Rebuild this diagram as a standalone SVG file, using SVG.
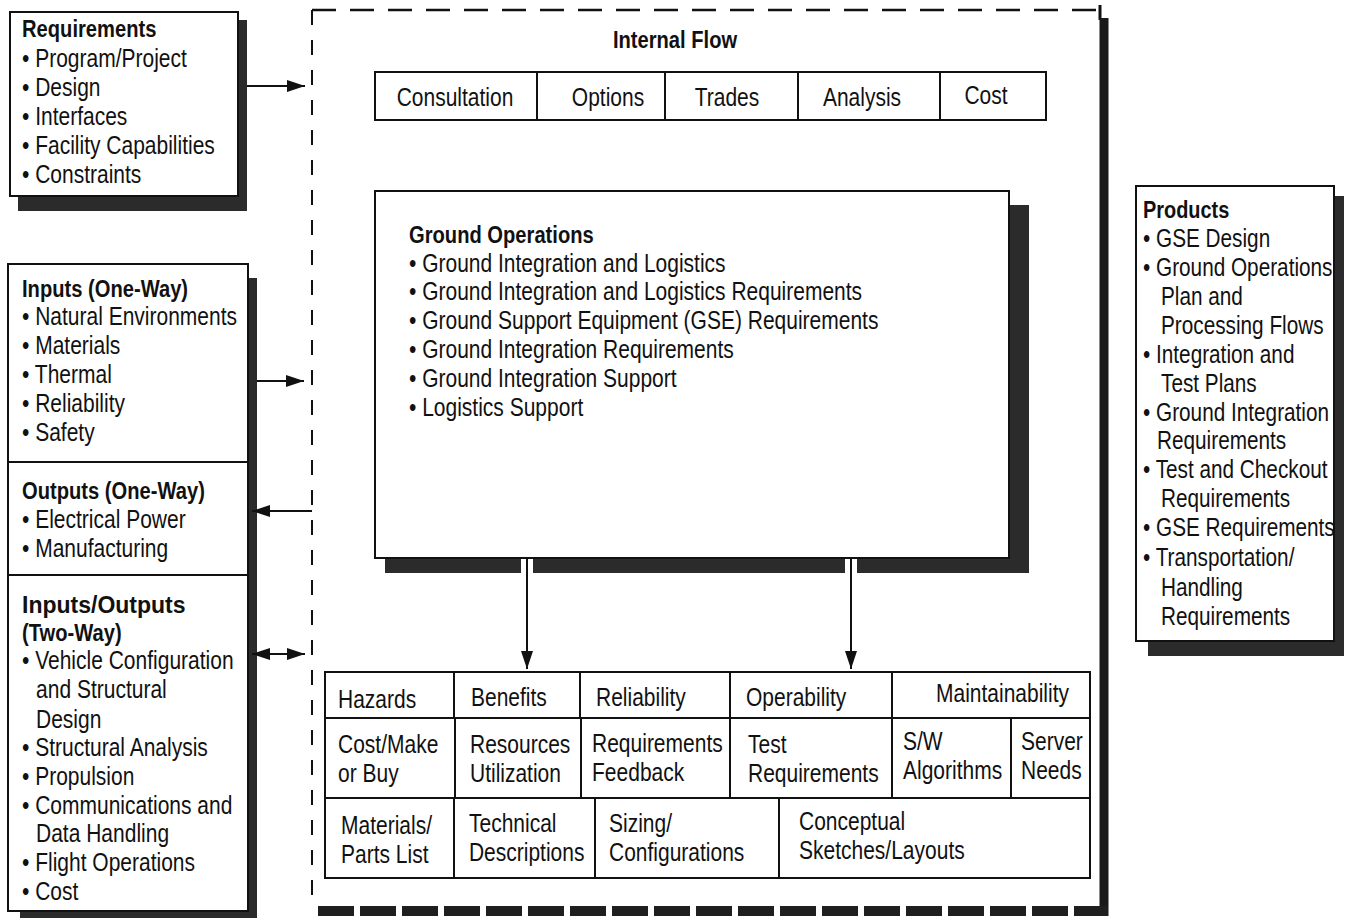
<svg xmlns="http://www.w3.org/2000/svg" width="1346" height="920" viewBox="0 0 1346 920">
<style>
.t{font-family:"Liberation Sans",Arial,sans-serif;font-size:25px;fill:#111}
.b{font-weight:bold;font-size:24px}
.bw{font-family:"Liberation Sans",Arial,sans-serif;font-weight:bold;font-size:23px;fill:#111}
.box{fill:#fff;stroke:#111;stroke-width:2}
.sh{fill:#2b2b2b}
.ln{stroke:#111;stroke-width:2;fill:none}
.ar{stroke:#111;stroke-width:2;fill:none}
</style>
<defs>
<marker id="ah" markerUnits="userSpaceOnUse" markerWidth="20" markerHeight="14" refX="18" refY="7" orient="auto-start-reverse">
<path d="M0,1 L18,7 L0,13 Z" fill="#111"/>
</marker>
</defs>
<rect width="1346" height="920" fill="#fff"/>

<g id="frame">
<line x1="312" y1="10" x2="1100" y2="10" stroke="#111" stroke-width="2.5" stroke-dasharray="24 14"/>
<line x1="312" y1="10" x2="312" y2="900" stroke="#111" stroke-width="2" stroke-dasharray="15 15"/>
<line x1="1100" y1="5" x2="1100" y2="20" stroke="#111" stroke-width="3"/>
<line x1="1104" y1="18" x2="1104" y2="916" stroke="#1a1a1a" stroke-width="9"/>
<line x1="318" y1="911" x2="1108" y2="911" stroke="#1f1f1f" stroke-width="10" stroke-dasharray="36 6"/>
<g transform="scale(0.84 1)">
<text class="t b" x="803.6" y="48" text-anchor="middle">Internal Flow</text>
</g>
</g>

<g id="requirements">
<rect class="sh" x="238" y="20" width="9" height="191"/>
<rect class="sh" x="18" y="196" width="229" height="15"/>
<rect class="box" x="10" y="12" width="228" height="184"/>
<g transform="translate(22 0) scale(0.84 1)">
<text class="t b" x="0" y="37">Requirements</text>
<text class="t" x="0" y="67">• Program/Project</text>
<text class="t" x="0" y="96">• Design</text>
<text class="t" x="0" y="125">• Interfaces</text>
<text class="t" x="0" y="154">• Facility Capabilities</text>
<text class="t" x="0" y="183">• Constraints</text>
</g>
</g>

<g id="left-shadow">
<rect class="sh" x="248" y="278" width="9" height="640"/>
<rect class="sh" x="20" y="911" width="237" height="7"/>
</g>

<g id="inputs-one-way">
<rect class="box" x="8" y="264" width="240" height="198"/>
<g transform="translate(22 0) scale(0.84 1)">
<text class="t b" x="0" y="297">Inputs (One-Way)</text>
<text class="t" x="0" y="325">• Natural Environments</text>
<text class="t" x="0" y="354">• Materials</text>
<text class="t" x="0" y="383">• Thermal</text>
<text class="t" x="0" y="412">• Reliability</text>
<text class="t" x="0" y="441">• Safety</text>
</g>
</g>

<g id="outputs-one-way">
<rect class="box" x="8" y="462" width="240" height="113"/>
<g transform="translate(22 0) scale(0.84 1)">
<text class="t b" x="0" y="499">Outputs (One-Way)</text>
<text class="t" x="0" y="528">• Electrical Power</text>
<text class="t" x="0" y="557">• Manufacturing</text>
</g>
</g>

<g id="inputs-outputs">
<rect class="box" x="8" y="575" width="240" height="336"/>
<text class="bw" x="22" y="613">Inputs/Outputs</text>
<g transform="translate(22 0) scale(0.84 1)">
<text class="t b" x="0" y="641">(Two-Way)</text>
<text class="t" x="0" y="669">• Vehicle Configuration</text>
<text class="t" x="16.7" y="698">and Structural</text>
<text class="t" x="16.7" y="728">Design</text>
<text class="t" x="0" y="756">• Structural Analysis</text>
<text class="t" x="0" y="785">• Propulsion</text>
<text class="t" x="0" y="814">• Communications and</text>
<text class="t" x="16.7" y="842">Data Handling</text>
<text class="t" x="0" y="871">• Flight Operations</text>
<text class="t" x="0" y="900">• Cost</text>
</g>
</g>

<g id="internal-flow-row">
<rect class="box" x="375" y="72" width="671" height="48"/>
<line class="ln" x1="537" y1="72" x2="537" y2="120"/>
<line class="ln" x1="665" y1="72" x2="665" y2="120"/>
<line class="ln" x1="798" y1="72" x2="798" y2="120"/>
<line class="ln" x1="940" y1="72" x2="940" y2="120"/>
<g transform="scale(0.84 1)">
<text class="t" x="541.7" y="106" text-anchor="middle">Consultation</text>
<text class="t" x="723.8" y="106" text-anchor="middle">Options</text>
<text class="t" x="865.5" y="106" text-anchor="middle">Trades</text>
<text class="t" x="1026.2" y="106" text-anchor="middle">Analysis</text>
<text class="t" x="1173.8" y="104" text-anchor="middle">Cost</text>
</g>
</g>

<g id="ground-operations">
<rect class="sh" x="1009" y="205" width="20" height="368"/>
<rect class="sh" x="385" y="558" width="644" height="15"/>
<rect x="521" y="559" width="12" height="15" fill="#fff"/>
<rect x="845" y="559" width="12" height="15" fill="#fff"/>
<rect class="box" x="375" y="191" width="634" height="367"/>
<g transform="translate(409 0) scale(0.84 1)">
<text class="t b" x="0" y="243">Ground Operations</text>
<text class="t" x="0" y="272">• Ground Integration and Logistics</text>
<text class="t" x="0" y="300">• Ground Integration and Logistics Requirements</text>
<text class="t" x="0" y="329">• Ground Support Equipment (GSE) Requirements</text>
<text class="t" x="0" y="358">• Ground Integration Requirements</text>
<text class="t" x="0" y="387">• Ground Integration Support</text>
<text class="t" x="0" y="416">• Logistics Support</text>
</g>
</g>

<g id="products">
<rect class="sh" x="1334" y="196" width="10" height="460"/>
<rect class="sh" x="1148" y="641" width="196" height="15"/>
<rect class="box" x="1136" y="186" width="198" height="455"/>
<g transform="translate(1143 0) scale(0.83 1)">
<text class="t b" x="0" y="218">Products</text>
<text class="t" x="0" y="247">• GSE Design</text>
<text class="t" x="0" y="276">• Ground Operations</text>
<text class="t" x="21.7" y="305">Plan and</text>
<text class="t" x="21.7" y="334">Processing Flows</text>
<text class="t" x="0" y="363">• Integration and</text>
<text class="t" x="21.7" y="392">Test Plans</text>
<text class="t" x="0" y="421">• Ground Integration</text>
<text class="t" x="16.9" y="449">Requirements</text>
<text class="t" x="0" y="478">• Test and Checkout</text>
<text class="t" x="21.7" y="507">Requirements</text>
<text class="t" x="0" y="536">• GSE Requirements</text>
<text class="t" x="0" y="566">• Transportation/</text>
<text class="t" x="21.7" y="596">Handling</text>
<text class="t" x="21.7" y="625">Requirements</text>
</g>
</g>

<g id="analysis-grid">
<rect class="box" x="325" y="672" width="765" height="206"/>
<line class="ln" x1="325" y1="718" x2="1090" y2="718"/>
<line class="ln" x1="325" y1="798" x2="1090" y2="798"/>
<line class="ln" x1="454" y1="672" x2="454" y2="718"/>
<line class="ln" x1="580" y1="672" x2="580" y2="718"/>
<line class="ln" x1="730" y1="672" x2="730" y2="718"/>
<line class="ln" x1="892" y1="672" x2="892" y2="718"/>
<line class="ln" x1="455" y1="718" x2="455" y2="798"/>
<line class="ln" x1="581" y1="718" x2="581" y2="798"/>
<line class="ln" x1="730" y1="718" x2="730" y2="798"/>
<line class="ln" x1="892" y1="718" x2="892" y2="798"/>
<line class="ln" x1="1011" y1="718" x2="1011" y2="798"/>
<line class="ln" x1="454" y1="798" x2="454" y2="878"/>
<line class="ln" x1="595" y1="798" x2="595" y2="878"/>
<line class="ln" x1="779" y1="798" x2="779" y2="878"/>
<g transform="scale(0.84 1)">
<text class="t" x="402.4" y="708">Hazards</text>
<text class="t" x="560.7" y="706">Benefits</text>
<text class="t" x="709.5" y="706">Reliability</text>
<text class="t" x="888.1" y="706">Operability</text>
<text class="t" x="1114.3" y="702">Maintainability</text>
<text class="t" x="402.4" y="753">Cost/Make</text>
<text class="t" x="402.4" y="782">or Buy</text>
<text class="t" x="559.5" y="753">Resources</text>
<text class="t" x="559.5" y="782">Utilization</text>
<text class="t" x="704.8" y="752">Requirements</text>
<text class="t" x="704.8" y="781">Feedback</text>
<text class="t" x="890.5" y="753">Test</text>
<text class="t" x="890.5" y="782">Requirements</text>
<text class="t" x="1075" y="750">S/W</text>
<text class="t" x="1075" y="779">Algorithms</text>
<text class="t" x="1215.5" y="750">Server</text>
<text class="t" x="1215.5" y="779">Needs</text>
<text class="t" x="406" y="834">Materials/</text>
<text class="t" x="406" y="863">Parts List</text>
<text class="t" x="558.3" y="832">Technical</text>
<text class="t" x="558.3" y="861">Descriptions</text>
<text class="t" x="725" y="832">Sizing/</text>
<text class="t" x="725" y="861">Configurations</text>
<text class="t" x="951.2" y="830">Conceptual</text>
<text class="t" x="951.2" y="859">Sketches/Layouts</text>
</g>
</g>

<g id="connectors">
<line class="ar" x1="247" y1="86" x2="305" y2="86" marker-end="url(#ah)"/>
<line class="ar" x1="257" y1="381" x2="304" y2="381" marker-end="url(#ah)"/>
<line class="ar" x1="312" y1="511" x2="252" y2="511" marker-end="url(#ah)"/>
<line class="ar" x1="252" y1="654" x2="305" y2="654" marker-start="url(#ah)" marker-end="url(#ah)"/>
<line class="ar" x1="527" y1="558" x2="527" y2="669" marker-end="url(#ah)"/>
<line class="ar" x1="851" y1="558" x2="851" y2="669" marker-end="url(#ah)"/>
</g>
</svg>
